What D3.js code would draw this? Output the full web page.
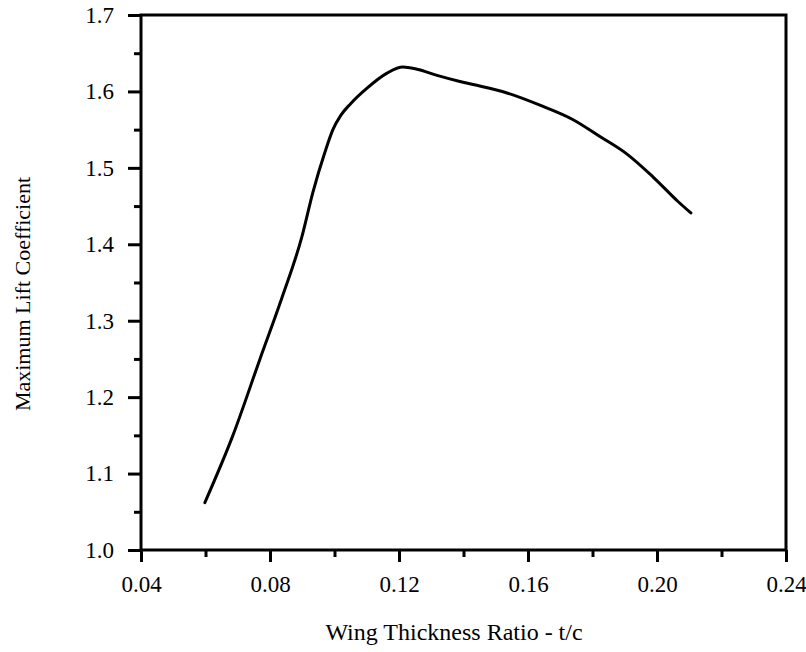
<!DOCTYPE html>
<html><head><meta charset="utf-8">
<script src="https://cdn.jsdelivr.net/npm/d3@7"></script>
<style>
body{margin:0;background:#fff;}
text{font-family:"Liberation Serif","Times New Roman",serif;fill:#000;}
</style></head>
<body><svg id="c" width="806" height="652"></svg>
<script>
const thickness = [0.0598,0.0685,0.0769,0.0837,0.0899,0.0933,0.0970,0.0995,0.1020,0.1050,0.1100,0.1163,0.1212,0.1256,0.1318,0.1389,0.1430,0.1535,0.1637,0.1740,0.1823,0.1907,0.1988,0.2065,0.2105];
const clmax     = [1.062,1.150,1.250,1.330,1.410,1.468,1.520,1.550,1.569,1.584,1.604,1.624,1.632,1.629,1.621,1.613,1.609,1.598,1.582,1.563,1.541,1.518,1.488,1.456,1.441];
const xTicks = [0.04,0.08,0.12,0.16,0.20,0.24];
const xMinor = [0.06,0.10,0.14,0.18,0.22];
const yTicks = [1.0,1.1,1.2,1.3,1.4,1.5,1.6,1.7];
const yMinor = [1.05,1.15,1.25,1.35,1.45,1.55,1.65];
const xTitle = "Wing Thickness Ratio - t/c";
const yTitle = "Maximum Lift Coefficient";

const L=141,R=786,T=15,B=550;
const svg=d3.select("#c");
const x=d3.scaleLinear().domain([0.04,0.24]).range([L,R]);
const y=d3.scaleLinear().domain([1.0,1.7]).range([B,T]);

function styleAxis(g){
  g.selectAll("path").remove();
  g.selectAll("line").style("stroke","#000").style("stroke-width","3px");
  g.selectAll("text").style("font-size","23px").style("fill","#000")
   .style("font-family",'"Liberation Serif","Times New Roman",serif');
}

svg.append("g").attr("transform",`translate(0,${B})`)
  .call(d3.axisBottom(x).tickValues(xTicks).tickSize(12).tickSizeOuter(0).tickFormat(d3.format(".2f")))
  .call(styleAxis)
  .call(g=>g.selectAll("text").attr("y",42).attr("dy",null));
svg.append("g").attr("transform",`translate(0,${B})`)
  .call(d3.axisBottom(x).tickValues(xMinor).tickSize(7).tickFormat(""))
  .call(styleAxis);
svg.append("g").attr("transform",`translate(${L},0)`)
  .call(d3.axisLeft(y).tickValues(yTicks).tickSize(13).tickSizeOuter(0).tickPadding(14).tickFormat(d3.format(".1f")))
  .call(styleAxis);
svg.append("g").attr("transform",`translate(${L},0)`)
  .call(d3.axisLeft(y).tickValues(yMinor).tickSize(7).tickFormat(""))
  .call(styleAxis);

// frame
svg.append("rect").attr("x",L).attr("y",T).attr("width",R-L).attr("height",B-T)
  .attr("fill","none").attr("stroke","#000").attr("stroke-width",3);

const line=d3.line().x((d,i)=>x(thickness[i])).y(d=>y(d)).curve(d3.curveMonotoneX);
svg.append("path").datum(clmax).attr("d",line).attr("fill","none")
  .attr("stroke","#000").attr("stroke-width",3).attr("stroke-linecap","round");

svg.append("text").attr("x",454).attr("y",640).attr("text-anchor","middle")
  .style("font-size","24px").text(xTitle);
svg.append("text").attr("transform",`translate(30,294) rotate(-90)`).attr("text-anchor","middle")
  .style("font-size","22px").text(yTitle);
</script></body></html>
